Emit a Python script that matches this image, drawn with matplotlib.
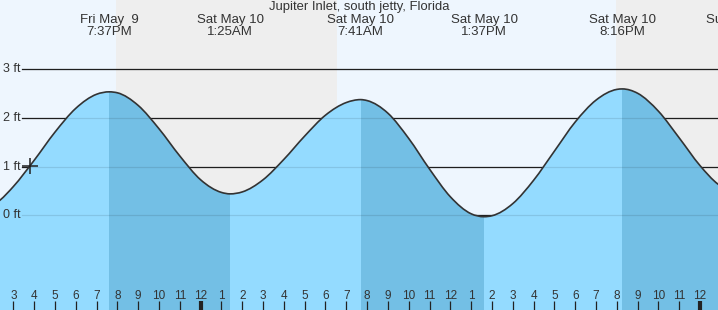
import matplotlib
matplotlib.use("Agg")
import matplotlib.pyplot as plt
from matplotlib.path import Path
from matplotlib.patches import PathPatch, Rectangle

plt.rcParams["font.family"] = ["Liberation Sans", "DejaVu Sans"]

# tempo em horas desde 9 de maio 00:00
x_ini = 14.36
x_fim = 48.86

# alturas, hora em hora (pes)
horas = [x_ini, 15, 16, 17, 18, 19, 20, 21, 22, 23, 24, 25, 26, 27, 28, 29, 30, 31,
         32, 33, 34, 35, 36, 37, 38, 39, 40, 41, 42, 43, 44, 45, 46, 47, 48, x_fim]
alturas = [0.31, 0.59, 1.13, 1.71, 2.20, 2.49, 2.52, 2.26, 1.78, 1.22, 0.73, 0.47,
           0.48, 0.73, 1.15, 1.63, 2.06, 2.32, 2.36, 2.10, 1.58, 0.95, 0.38, 0.03,
           -0.01, 0.24, 0.72, 1.32, 1.92, 2.37, 2.59, 2.51, 2.14, 1.59, 1.02, 0.64]

# mares altas e baixas (a primeira e a ultima ficam fora do grafico)
mare_horas = [12.9, 19.617, 25.417, 31.683, 37.617, 44.267, 49.95]
mare_alturas = [0.03, 2.54, 0.44, 2.38, -0.03, 2.60, 0.45]
mare_dia = ["Fri May  9", "Fri May  9", "Sat May 10", "Sat May 10", "Sat May 10",
            "Sat May 10", "Sun May 11"]
mare_hora_txt = ["12:54PM", "7:37PM", "1:25AM", "7:41AM", "1:37PM", "8:16PM", "1:57AM"]

# por do sol / nascer do sol
noite_ini = [19.93, 43.96]
noite_fim = [30.53, 50.0]

marcador_hora = 15.8
marcador_altura = 1.02

niveis = [0, 1, 2, 3]
titulo = "Jupiter Inlet, south jetty, Florida"

cor_dia = "#eef6fe"
cor_noite = "#eeeeee"
cor_agua = "#94dbff"
cor_agua_escura = "#73bfe5"
cor_texto = "#333333"

# junta a serie horaria com os extremos
pontos = sorted(zip(horas + mare_horas, alturas + mare_alturas))
t = [p[0] for p in pontos]
h = [p[1] for p in pontos]


# curva suave (cubica monotona, igual d3 curveMonotoneX)
def tangentes(x, y):
    n = len(x)
    s = [(y[i + 1] - y[i]) / (x[i + 1] - x[i]) for i in range(n - 1)]
    m = [0.0] * n
    for i in range(1, n - 1):
        if s[i - 1] * s[i] <= 0:
            m[i] = 0.0
        else:
            h0 = x[i] - x[i - 1]
            h1 = x[i + 1] - x[i]
            p = (s[i - 1] * h1 + s[i] * h0) / (h0 + h1)
            sinal = 1 if s[i] > 0 else -1
            m[i] = sinal * min(abs(s[i - 1]), abs(s[i]), 0.5 * abs(p)) * 2
    m[0] = (3 * s[0] - m[1]) / 2
    m[-1] = (3 * s[-1] - m[-2]) / 2
    return m


m = tangentes(t, h)
verts = [(t[0], h[0])]
codes = [Path.MOVETO]
for i in range(len(t) - 1):
    dx = t[i + 1] - t[i]
    verts += [(t[i] + dx / 3, h[i] + m[i] * dx / 3),
              (t[i + 1] - dx / 3, h[i + 1] - m[i + 1] * dx / 3),
              (t[i + 1], h[i + 1])]
    codes += [Path.CURVE4] * 3
curva = Path(verts, codes)
agua = Path(verts + [(t[-1], -3), (t[0], -3), (t[0], h[0])],
            codes + [Path.LINETO, Path.LINETO, Path.CLOSEPOLY])

fig = plt.figure(figsize=(7.18, 3.10), dpi=100)
ax = fig.add_axes([0, 0, 1, 1])
ax.set_xlim(x_ini, x_fim)
ax.set_ylim(-1.95, 4.43)
ax.axis("off")

# fundo dia/noite
ax.axvspan(x_ini - 5, x_fim + 5, color=cor_dia, zorder=0)
for a, b in zip(noite_ini, noite_fim):
    ax.axvspan(a, b, color=cor_noite, lw=0, zorder=0)

# linhas dos pes
for n in niveis:
    ax.axhline(n, xmin=0.031, color="#222222", lw=0.9, zorder=1)
    ax.axhline(n, xmin=0.031, color="black", alpha=0.1, lw=0.9, zorder=3)
    ax.text(0.004, n, f"{n} ft", transform=ax.get_yaxis_transform(),
            ha="left", va="center", fontsize=9, color=cor_texto, zorder=5)

# agua: subindo clara, descendo escura
patch_agua = PathPatch(agua, fc=cor_agua, lw=0, zorder=2)
ax.add_patch(patch_agua)
for i in range(len(mare_horas) - 1):
    if mare_alturas[i] > mare_alturas[i + 1]:
        a, b = mare_horas[i], mare_horas[i + 1]
        r = Rectangle((a, -3), b - a, 10, fc=cor_agua_escura, lw=0, zorder=2.1)
        ax.add_patch(r)
        r.set_clip_path(patch_agua)

ax.add_patch(PathPatch(curva, fill=False, ec="#333333", lw=1.2, zorder=4))
ax.plot(marcador_hora, marcador_altura, marker="+", ms=11, mew=1.1,
        color="#222222", zorder=5)

# cabecalho
ax.text(0.5, 0.977, titulo, transform=ax.transAxes, ha="center", va="center",
        fontsize=9.4, color=cor_texto)
for i in range(len(mare_horas)):
    if mare_horas[i] < x_ini:
        continue
    ax.text(mare_horas[i], 0.936, mare_dia[i], transform=ax.get_xaxis_transform(),
            ha="center", va="center", fontsize=9.5, color=cor_texto)
    ax.text(mare_horas[i], 0.897, mare_hora_txt[i], transform=ax.get_xaxis_transform(),
            ha="center", va="center", fontsize=9.5, color=cor_texto)

# marcas das horas embaixo
for hr in range(15, 49):
    rotulo = str(hr % 12 if hr % 12 != 0 else 12)
    grossa = hr % 24 == 0
    ax.plot([hr, hr], [0, 0.029], transform=ax.get_xaxis_transform(),
            color="#222222", lw=3 if grossa else 0.9, solid_capstyle="butt", zorder=5)
    ax.text(hr, 0.046, rotulo, transform=ax.get_xaxis_transform(),
            ha="center", va="center", fontsize=8.5, color=cor_texto, zorder=5)

fig.savefig("out.png", dpi=100)
